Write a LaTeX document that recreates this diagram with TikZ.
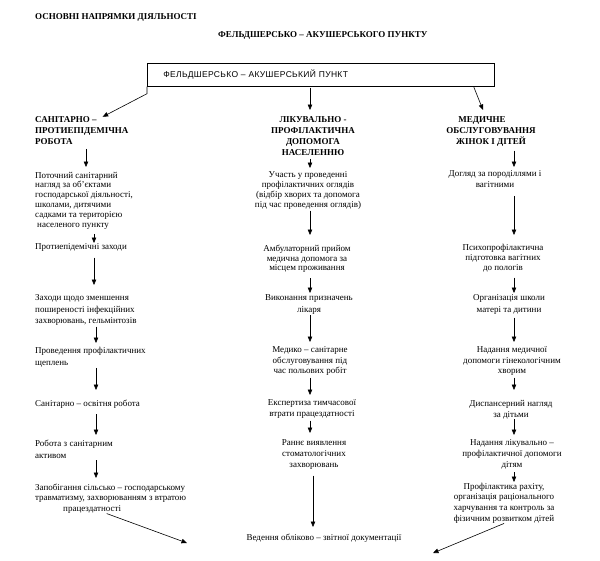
\documentclass[tikz,border=0pt]{standalone}
\usepackage{fontspec}
\setmainfont{Liberation Serif}
\newfontfamily\boxfont[LetterSpace=4]{Liberation Sans}
\usetikzlibrary{arrows.meta}
\tikzset{
  txt/.style={inner sep=0pt, font=\fontsize{9}{#1}\selectfont},
  txt/.default=10.5,
  hd/.style={inner sep=0pt, font=\bfseries\fontsize{9}{#1}\selectfont},
  hd/.default=11,
  lcol/.style={anchor=north west, align=left},
  ccol/.style={anchor=north, align=center},
  arr/.style={-{Triangle[length=5.5pt,width=4.5pt]}, line width=0.6pt},
  mainbox/.style={draw, line width=0.7pt, anchor=north west, text width=315pt,
    inner xsep=16pt, inner ysep=0pt, minimum height=23pt, align=left,
    font=\boxfont\fontsize{8.5}{10}\selectfont},
}
\begin{document}
\begin{tikzpicture}[x=1pt,y=-1pt]
\useasboundingbox[fill=white] (0,0) rectangle (600,560);

% titles
\node[hd, anchor=north west] (t1) at (35,13.8) {ОСНОВНІ НАПРЯМКИ ДІЯЛЬНОСТІ};
\node[hd, anchor=north west] (t2) at (218,31.8) {ФЕЛЬДШЕРСЬКО – АКУШЕРСЬКОГО ПУНКТУ};

% main box
\node[mainbox] (box) at (147,63) {ФЕЛЬДШЕРСЬКО – АКУШЕРСЬКИЙ ПУНКТ};

% column x positions for arrows
\coordinate (cLa) at (86,0);
\coordinate (cLb) at (94,0);
\coordinate (cLc) at (96,0);
\coordinate (cM) at (310,0);
\coordinate (cMb) at (313,0);
\coordinate (cR) at (514,0);
\coordinate (tipL) at (187,543);
\coordinate (tipR) at (433,553);

% left column
\node[hd=11, lcol] (L0) at (35,116.8) {САНІТАРНО –\\ПРОТИЕПІДЕМІЧНА\\РОБОТА};
\node[txt=9.8, lcol] (L1) at (35,171.8) {Поточний санітарний\\нагляд за об’єктами\\господарської діяльності,\\школами, дитячими\\садками та територією\\\hspace*{2pt}населеного пункту};
\node[txt, lcol] (L2) at (35,243.8) {Протиепідемічні заходи};
\node[txt=11.5, lcol] (L3) at (35,294.8) {Заходи щодо зменшення\\поширеності інфекційних\\захворювань, гельмінтозів};
\node[txt=12, lcol] (L4) at (35,346.8) {Проведення профілактичних\\щеплень};
\node[txt, lcol] (L5) at (35,399.8) {Санітарно – освітня робота};
\node[txt=12, lcol] (L6) at (35,439.8) {Робота з санітарним\\активом};
\node[txt=10.5, lcol] (L7) at (35,483.8) {Запобігання сільсько – господарському\\травматизму, захворюванням з втратою\\\hspace*{28pt}працездатності};

% middle column
\node[hd=10.7, ccol] (M0) at (313,116.8) {ЛІКУВАЛЬНО -\\ПРОФІЛАКТИЧНА\\ДОПОМОГА\\НАСЕЛЕННЮ};
\node[txt=9.7, ccol] (M1) at (308,171.8) {Участь у проведенні\\профілактичних оглядів\\(відбір хворих та допомога\\під час проведення оглядів)};
\node[txt=9.6, ccol] (M2) at (307,244.8) {Амбулаторний прийом\\медична допомога за\\місцем проживання};
\node[txt=11.7, ccol] (M3) at (309,294.8) {Виконання призначень\\лікаря};
\node[txt=10.5, ccol] (M4) at (310,346.8) {Медико – санітарне\\обслуговування під\\час польових робіт};
\node[txt=11, ccol] (M5) at (312,399.8) {Експертиза тимчасової\\втрати працездатності};
\node[txt=11, ccol] (M6) at (314,439.8) {Раннє виявлення\\стоматологічних\\захворювань};
\node[txt, ccol] (M7) at (324,533.8) {Ведення обліково – звітної документації};

% right column
\node[hd=11, ccol] (R0) at (491,116.8) {МЕДИЧНЕ\hspace*{18pt}\\ОБСЛУГОВУВАННЯ\\ЖІНОК І ДІТЕЙ};
\node[txt=10.5, ccol] (R1) at (495,170.8) {Догляд за породіллями і\\вагітними};
\node[txt=10, ccol] (R2) at (503,243.8) {Психопрофілактична\\підготовка вагітних\\до пологів};
\node[txt=11.5, ccol] (R3) at (509,294.8) {Організація школи\\матері та дитини};
\node[txt=10.5, ccol] (R4) at (512,346.8) {Надання медичної\\допомоги гінекологічним\\хворим};
\node[txt=11, ccol] (R5) at (511,399.8) {Диспансерний нагляд\\за дітьми};
\node[txt=11, ccol] (R6) at (512,439.8) {Надання лікувально –\\профілактичної допомоги\\дітям};
\node[txt=10.7, ccol] (R7) at (504,482.8) {Профілактика рахіту,\\організація раціонального\\харчування та контроль за\\фізичним розвитком дітей};

% connectors from the main box
\draw[arr] (box.south west) -- ++(0,7) -- ([xshift=-26pt]L0.north east);
\draw[arr, shorten <=1pt, shorten >=6.8pt] (box.south -| cM) -- (M0.north -| cM);
\draw[arr] ([xshift=-21pt]box.south east) -- ([xshift=-8pt,yshift=6.8pt]R0.north);

% left column arrows
\draw[arr, shorten <=3.5pt, shorten >=4.8pt] (L0.south -| cLa) -- (L1.north -| cLa);
\draw[arr, shorten <=4.5pt, shorten >=0.8pt] (L1.south -| cLb) -- (L2.north -| cLb);
\draw[arr, shorten <=5.5pt, shorten >=9.8pt] (L2.south -| cLb) -- (L3.north -| cLb);
\draw[arr, shorten <=0.5pt, shorten >=3.8pt] (L3.south -| cLc) -- (L4.north -| cLc);
\draw[arr, shorten <=0.5pt, shorten >=9.8pt] (L4.south -| cLc) -- (L5.north -| cLc);
\draw[arr, shorten <=5.5pt, shorten >=4.8pt] (L5.south -| cLc) -- (L6.north -| cLc);
\draw[arr, shorten <=1.5pt, shorten >=5.8pt] (L6.south -| cLc) -- (L7.north -| cLc);
\draw[arr] ([xshift=-4pt]L7.south) -- (tipL);

% middle column arrows
\draw[arr, shorten <=3.5pt, shorten >=3.8pt] (M0.south -| cM) -- (M1.north -| cM);
\draw[arr, shorten <=1.5pt, shorten >=9.8pt] (M1.south -| cM) -- (M2.north -| cM);
\draw[arr, shorten <=5.5pt, shorten >=1.8pt] (M2.south -| cM) -- (M3.north -| cM);
\draw[arr, shorten <=0.5pt, shorten >=4.8pt] (M3.south -| cM) -- (M4.north -| cM);
\draw[arr, shorten <=1.5pt, shorten >=4.8pt] (M4.south -| cM) -- (M5.north -| cM);
\draw[arr, shorten <=1.5pt, shorten >=6.8pt] (M5.south -| cM) -- (M6.north -| cM);
\draw[arr, shorten <=5.5pt, shorten >=6.8pt] (M6.south -| cMb) -- (M7.north -| cMb);

% right column arrows
\draw[arr, shorten <=3.5pt, shorten >=3.8pt] (R0.south -| cR) -- (R1.north -| cR);
\draw[arr, shorten <=8pt, shorten >=8.8pt] (R1.south -| cR) -- (R2.north -| cR);
\draw[arr, shorten <=5.5pt, shorten >=1.8pt] (R2.south -| cR) -- (R3.north -| cR);
\draw[arr, shorten <=3pt, shorten >=4.8pt] (R3.south -| cR) -- (R4.north -| cR);
\draw[arr, shorten <=1.5pt, shorten >=9.8pt] (R4.south -| cR) -- (R5.north -| cR);
\draw[arr, shorten <=0pt, shorten >=4.8pt] (R5.south -| cR) -- (R6.north -| cR);
\draw[arr, shorten <=2.5pt, shorten >=0.8pt] (R6.south -| cR) -- (R7.north -| cR);
\draw[arr] (R7.south) -- (tipR);
\end{tikzpicture}
\end{document}
